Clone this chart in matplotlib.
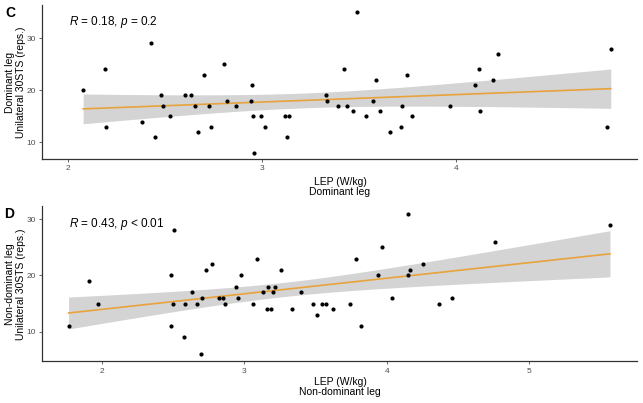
import numpy as np
import matplotlib
matplotlib.use("Agg")
import matplotlib.pyplot as plt

plt.rcParams['font.family'] = ['Liberation Sans', 'DejaVu Sans']
plt.rcParams['mathtext.fontset'] = 'custom'
plt.rcParams['mathtext.it'] = 'Liberation Sans:italic'
plt.rcParams['mathtext.rm'] = 'Liberation Sans'

# panel C: dominant leg
lep_dom = [2.077, 2.187, 2.194, 2.379, 2.424, 2.448, 2.476, 2.486, 2.522, 2.602,
           2.632, 2.652, 2.668, 2.697, 2.724, 2.734, 2.801, 2.820, 2.863, 2.947,
           2.944, 2.954, 2.959, 2.993, 3.012, 3.115, 3.136, 3.127, 3.330, 3.333,
           3.388, 3.419, 3.436, 3.465, 3.489, 3.536, 3.570, 3.585, 3.608, 3.657,
           3.716, 3.719, 3.745, 3.772, 3.969, 4.094, 4.118, 4.122, 4.187, 4.215,
           4.774, 4.795]
sts_dom = [20, 24, 13, 14, 29, 11, 19, 17, 15, 19,
           19, 17, 12, 23, 17, 13, 25, 18, 17, 21,
           18, 15, 8, 15, 13, 15, 15, 11, 19, 18,
           17, 24, 17, 16, 35, 15, 18, 22, 16, 12,
           13, 17, 23, 15, 17, 21, 24, 16, 22, 27,
           13, 28]

# panel D: non-dominant leg
lep_non = [1.764, 1.905, 1.970, 2.487, 2.487, 2.498, 2.503, 2.578, 2.582, 2.634,
           2.664, 2.697, 2.704, 2.727, 2.774, 2.821, 2.847, 2.861, 2.938, 2.952,
           2.978, 3.059, 3.087, 3.127, 3.160, 3.167, 3.190, 3.202, 3.213, 3.258,
           3.335, 3.398, 3.485, 3.513, 3.543, 3.576, 3.623, 3.742, 3.784, 3.821,
           3.936, 3.966, 4.036, 4.149, 4.149, 4.167, 4.256, 4.370, 4.459, 4.763,
           5.569]
sts_non = [11, 19, 15, 20, 11, 15, 28, 9, 15, 17,
           15, 6, 16, 21, 22, 16, 16, 15, 18, 16,
           20, 15, 23, 17, 14, 18, 14, 17, 18, 21,
           14, 17, 15, 13, 15, 15, 14, 15, 23, 11,
           20, 25, 16, 31, 20, 21, 22, 15, 16, 26,
           29]

W, H = 643, 403
fig = plt.figure(figsize=(W / 100, H / 100), dpi=100)


def px(x, y):
    return x / W, (H - y) / H


def panel(rect, x, y, xlim, ylim, xticks, yticks, stat_txt, leg):
    ax = fig.add_axes(rect)
    x = np.array(x)
    y = np.array(y)
    n = len(x)
    b, a = np.polyfit(x, y, 1)
    xs = np.linspace(x.min(), x.max(), 100)
    ys = a + b * xs
    resid = y - (a + b * x)
    s = np.sqrt(np.sum(resid ** 2) / (n - 2))
    se = s * np.sqrt(1 / n + (xs - x.mean()) ** 2 / np.sum((x - x.mean()) ** 2))
    t = 2.01
    ax.fill_between(xs, ys - t * se, ys + t * se, color="#d4d4d4", lw=0, zorder=1)
    ax.plot(xs, ys, color="#e8a33b", lw=1.2, zorder=2)
    ax.scatter(x, y, s=9, color="black", zorder=3, lw=0)
    ax.set_xlim(*xlim)
    ax.set_ylim(*ylim)
    ax.set_xticks(xticks)
    ax.set_yticks(yticks)
    ax.tick_params(labelsize=6, colors="#4d4d4d", length=2.5, width=0.6, pad=2)
    for sp in ["top", "right"]:
        ax.spines[sp].set_visible(False)
    for sp in ["left", "bottom"]:
        ax.spines[sp].set_color("#333333")
        ax.spines[sp].set_linewidth(0.9)
    ax.text(0.045, 0.89, stat_txt, transform=ax.transAxes, fontsize=8.5, va="center")
    return ax


panel([42 / W, (H - 159) / H, 595 / W, 154 / H], lep_dom, sts_dom,
      (1.865, 4.93), (6.79, 36.4), [2, 3, 4], [10, 20, 30],
      r"$R$ = 0.18, $p$ = 0.2", "Dominant leg")
panel([42 / W, (H - 361.3) / H, 595 / W, 154.8 / H], lep_non, sts_non,
      (1.577, 5.759), (4.74, 32.25), [2, 3, 4, 5], [10, 20, 30],
      r"$R$ = 0.43, $p$ < 0.01", "Non-dominant leg")

# axis labels
fig.text(*px(340, 182), "LEP (W/kg)", ha="center", va="center", fontsize=7.5)
fig.text(*px(340, 192), "Dominant leg", ha="center", va="center", fontsize=7.5)
fig.text(*px(340, 382), "LEP (W/kg)", ha="center", va="center", fontsize=7.5)
fig.text(*px(340, 392), "Non-dominant leg", ha="center", va="center", fontsize=7.5)

fig.text(*px(10, 82), "Dominant leg", rotation=90, ha="center", va="center", fontsize=7.5)
fig.text(*px(21, 82), "Unilateral 30STS (reps.)", rotation=90, ha="center", va="center", fontsize=7.5)
fig.text(*px(10, 284), "Non-dominant leg", rotation=90, ha="center", va="center", fontsize=7.5)
fig.text(*px(21, 284), "Unilateral 30STS (reps.)", rotation=90, ha="center", va="center", fontsize=7.5)

# panel letters
fig.text(*px(5, 13), "C", ha="left", va="center", fontsize=10, fontweight="bold")
fig.text(*px(4, 214), "D", ha="left", va="center", fontsize=10, fontweight="bold")

fig.savefig("out.png", dpi=100)
